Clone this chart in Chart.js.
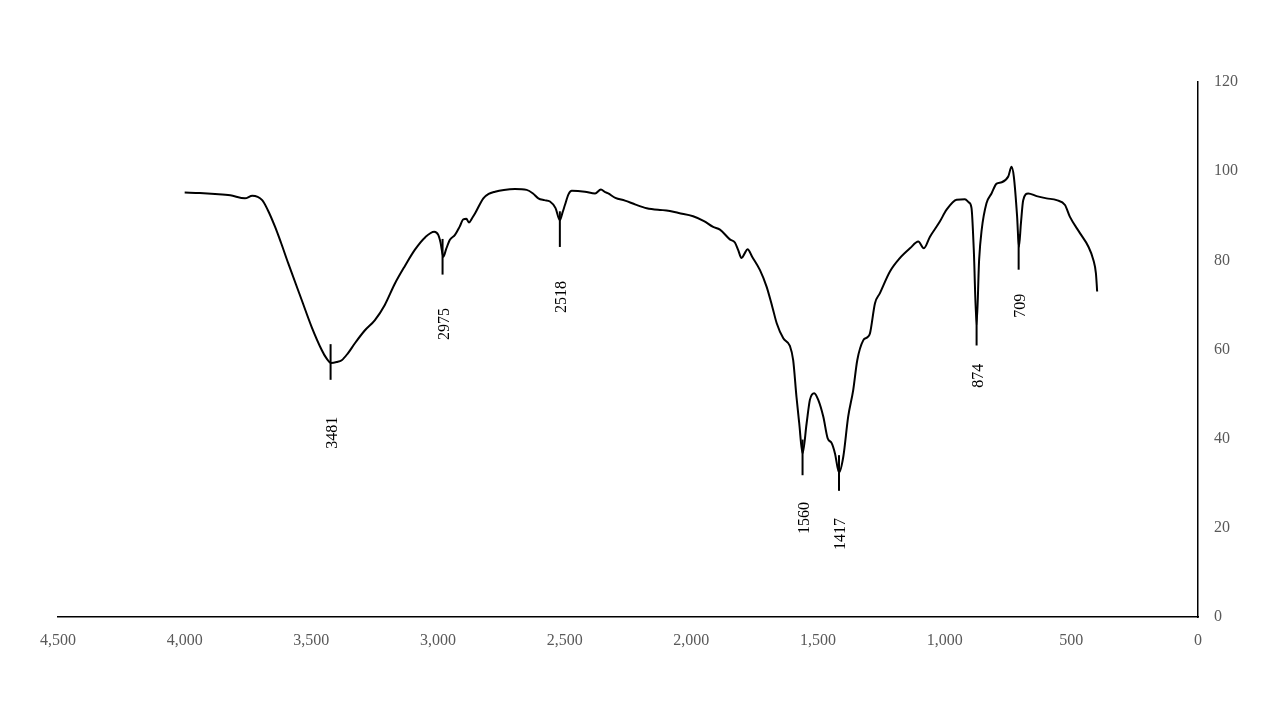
<!DOCTYPE html>
<html>
<head>
<meta charset="utf-8">
<script src="https://cdn.jsdelivr.net/npm/chart.js@4/dist/chart.umd.min.js"></script>
<style>
    html, body { margin: 0; padding: 0; background: #fff; }
    #wrap { width: 1280px; height: 720px; position: relative; }
</style>
</head>
<body>
<div id="wrap"><canvas id="ftirChart"></canvas></div>
<script>
// Spectrum: wavenumber (cm-1) and transmittance (%)
const wavenumbers = [
    4000, 3940, 3880, 3820, 3762, 3733, 3694, 3672, 3643, 3620, 3591, 3538, 3499, 3459, 3440, 3422,
    3400, 3380, 3355, 3328, 3290, 3249, 3210, 3170, 3130, 3091, 3050, 3015, 2999, 2990, 2979, 2968,
    2953, 2933, 2915, 2900, 2888, 2878, 2865, 2854, 2821, 2800, 2775, 2740, 2696, 2650, 2625, 2604,
    2580, 2558, 2536, 2519, 2508, 2499, 2485, 2472, 2420, 2380, 2357, 2340, 2328, 2300, 2262, 2220,
    2176, 2124, 2098, 2050, 1993, 1950, 1914, 1887, 1848, 1828, 1815, 1802, 1790, 1778, 1760, 1729,
    1703, 1680, 1663, 1637, 1611, 1598, 1585, 1574, 1561, 1545, 1532, 1515, 1499, 1479, 1462, 1446,
    1433, 1417, 1400, 1381, 1361, 1345, 1321, 1306, 1295, 1275, 1256, 1216, 1177, 1137, 1104, 1082,
    1058, 1019, 993, 953, 920, 905, 894, 885, 874, 864, 854, 835, 815, 795, 775, 749,
    736, 727, 714, 707, 699, 690, 670, 637, 598, 558, 525, 506, 466, 433, 413, 403, 398
];
const transmittance = [
    95.2, 95.1, 94.9, 94.6, 93.9, 94.5, 93.5, 91.3, 87.5, 84.0, 79.3, 71.1, 65.1, 59.9, 58.0, 57.0,
    57.2, 57.6, 59.2, 61.4, 64.2, 66.6, 70.0, 74.8, 78.8, 82.4, 85.2, 86.4, 85.7, 84.0, 80.8, 82.5,
    84.6, 85.7, 87.5, 89.2, 89.3, 88.5, 89.5, 90.5, 93.9, 94.9, 95.4, 95.8, 96.0, 95.8, 95.0, 93.9,
    93.5, 93.2, 91.7, 89.0, 90.8, 92.4, 94.8, 95.6, 95.4, 95.0, 95.9, 95.3, 95.0, 94.0, 93.4, 92.5,
    91.7, 91.3, 91.2, 90.6, 89.9, 88.8, 87.5, 86.9, 84.7, 84.0, 82.3, 80.5, 81.5, 82.5, 80.8, 77.8,
    74.1, 69.5, 65.9, 62.5, 60.8, 57.6, 49.4, 43.4, 36.7, 43.4, 48.7, 50.2, 48.7, 44.9, 40.1, 39.0,
    36.7, 32.4, 36.0, 44.9, 50.9, 57.6, 62.1, 62.7, 63.6, 70.4, 72.6, 77.5, 80.5, 82.7, 84.2, 82.7,
    85.3, 88.7, 91.3, 93.6, 93.7, 93.0, 91.7, 82.3, 65.5, 80.1, 86.8, 92.8, 95.0, 97.2, 97.5, 98.8,
    101.0, 98.8, 89.8, 83.0, 88.3, 93.5, 95.0, 94.4, 93.9, 93.5, 92.4, 89.8, 86.1, 83.1, 80.1, 77.1, 73.0
];

// Peak annotations
const peakLabels = ['3481', '2975', '2518', '1560', '1417', '874', '709'];
const peakPositions = [3424, 2982, 2519, 1561, 1417, 874, 708];
const peakValues = [57.2, 80.8, 87.0, 35.8, 32.3, 64.9, 81.9];
const peakLabelValues = [41.3, 65.7, 71.8, 22.2, 18.6, 54.1, 69.8];
const peakBarHalf = 4;

const serif = "'Liberation Serif', 'Times New Roman', serif";

const peakMarks = {
    id: 'peakMarks',
    afterDatasetsDraw(chart) {
        const ctx = chart.ctx;
        const x = chart.scales.x;
        const y = chart.scales.y;
        ctx.save();
        ctx.strokeStyle = '#000';
        ctx.lineWidth = 2;
        ctx.fillStyle = '#000';
        ctx.font = '16px ' + serif;
        ctx.textAlign = 'center';
        ctx.textBaseline = 'middle';
        peakPositions.forEach(function(pos, i) {
            const px = x.getPixelForValue(pos);
            ctx.beginPath();
            ctx.moveTo(px, y.getPixelForValue(peakValues[i] + peakBarHalf));
            ctx.lineTo(px, y.getPixelForValue(peakValues[i] - peakBarHalf));
            ctx.stroke();

            ctx.save();
            ctx.translate(px + 2, y.getPixelForValue(peakLabelValues[i]));
            ctx.rotate(-Math.PI / 2);
            ctx.fillText(peakLabels[i], 0, 0);
            ctx.restore();
        });
        ctx.restore();
    }
};

const ctx = document.getElementById('ftirChart').getContext('2d');
const ftirChart = new Chart(ctx, {
    type: 'line',
    data: {
        datasets: [{
            data: wavenumbers.map(function(w, i) { return { x: w, y: transmittance[i] }; }),
            borderColor: '#000',
            borderWidth: 2,
            pointRadius: 0,
            cubicInterpolationMode: 'monotone',
            fill: false
        }]
    },
    options: {
        responsive: true,
        maintainAspectRatio: false,
        animation: false,
        layout: {
            padding: { left: 58, top: 82, right: 0, bottom: 0 }
        },
        plugins: {
            legend: { display: false },
            tooltip: { enabled: false }
        },
        scales: {
            x: {
                type: 'linear',
                reverse: true,
                min: 0,
                max: 4500,
                afterFit: function(scale) { scale.height = 103; },
                grid: { display: false, drawTicks: false },
                border: { display: true, color: '#000', width: 1.5 },
                ticks: {
                    stepSize: 500,
                    padding: 14,
                    color: '#595959',
                    font: { family: serif, size: 16 }
                }
            },
            y: {
                position: 'right',
                min: 0,
                max: 120,
                afterFit: function(scale) { scale.width = 82; },
                grid: { display: false, drawTicks: false },
                border: { display: true, color: '#000', width: 1.5 },
                ticks: {
                    stepSize: 20,
                    padding: 16,
                    color: '#595959',
                    font: { family: serif, size: 16 }
                }
            }
        }
    },
    plugins: [peakMarks]
});
</script>
</body>
</html>
